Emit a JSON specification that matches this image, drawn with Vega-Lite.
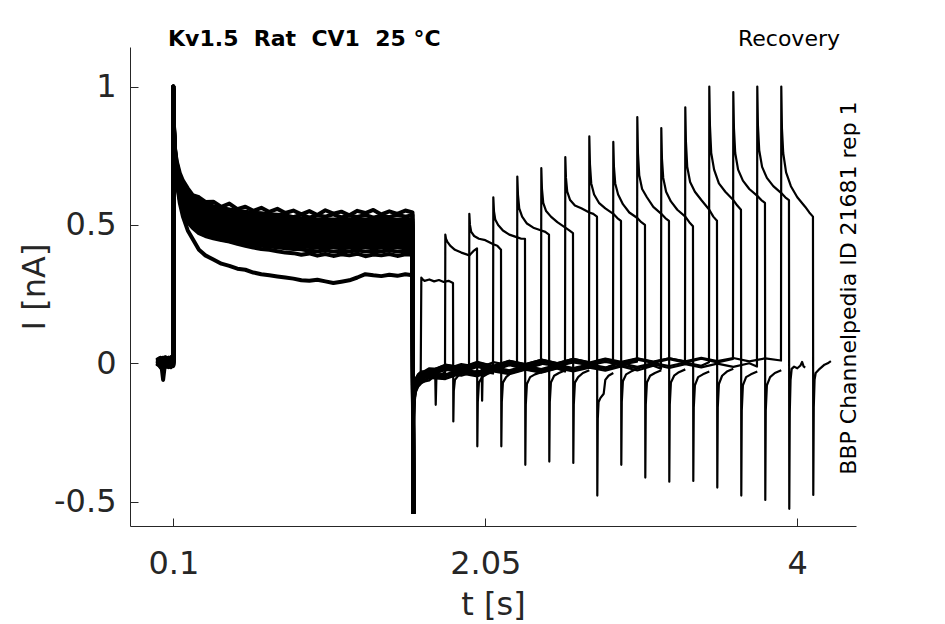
{
  "$schema": "https://vega.github.io/schema/vega-lite/v6.json",
  "width": 726,
  "height": 479,
  "autosize": {"type": "none"},
  "padding": {"left": 130, "top": 47, "right": 89, "bottom": 98},
  "background": "white",
  "config": {"view": {"stroke": null}, "font": "DejaVu Sans"},
  "encoding": {
    "x": {
      "field": "t",
      "type": "quantitative",
      "scale": {"domain": [-0.171, 4.367]},
      "axis": {
        "values": [0.1, 2.05, 4],
        "labelExpr": "'' + datum.value",
        "title": "t [s]",
        "grid": false,
        "tickSize": -8,
        "labelFont": "DejaVu Sans",
        "labelFontSize": 32,
        "labelColor": "#262626",
        "labelBaseline": "alphabetic",
        "labelPadding": 55,
        "labelFlush": false,
        "domainColor": "#262626",
        "tickColor": "#262626",
        "titleFont": "DejaVu Sans",
        "titleFontSize": 32,
        "titleFontWeight": "normal",
        "titleColor": "#262626",
        "titleY": 88,
        "titleBaseline": "alphabetic"
      }
    },
    "y": {
      "field": "i",
      "type": "quantitative",
      "scale": {"domain": [-0.588, 1.143]},
      "axis": {
        "values": [-0.5, 0, 0.5, 1],
        "labelExpr": "'' + datum.value",
        "title": "I [nA]",
        "grid": false,
        "tickSize": -8,
        "labelFont": "DejaVu Sans",
        "labelFontSize": 32,
        "labelColor": "#262626",
        "labelPadding": 22,
        "domainColor": "#262626",
        "tickColor": "#262626",
        "titleFont": "DejaVu Sans",
        "titleFontSize": 32,
        "titleFontWeight": "normal",
        "titleColor": "#262626",
        "titleX": -86,
        "titleAngle": 270,
        "titleBaseline": "alphabetic"
      }
    }
  },
  "layer": [
    {
      "data": {
        "values": [
          {"t": 0, "s1": 0.01, "s2": -0.005, "s3": 0.015, "s4": 0, "s5": 0.02, "s6": -0.01, "s7": 0.005, "s8": 0.012, "s9": -0.008, "s10": 0.018, "s11": 0.003, "s12": -0.012, "s13": 0.008, "s14": 0.022, "s15": -0.003, "s16": 0.006},
          {"t": 0.02, "s1": -0.01, "s2": 0.012, "s3": -0.004, "s4": 0.02, "s5": 0.002, "s6": 0.015, "s7": -0.012, "s8": 0.006, "s9": 0.018, "s10": -0.006, "s11": 0.01, "s12": 0.004, "s13": -0.015, "s14": 0, "s15": 0.014, "s16": -0.008},
          {"t": 0.036, "s1": 0.005, "s2": -0.02, "s3": 0.01, "s4": -0.06, "s5": 0.012, "s6": -0.005, "s7": 0.02, "s8": -0.015, "s9": 0, "s10": 0.008, "s11": -0.025, "s12": 0.015, "s13": 0.004, "s14": -0.01, "s15": 0, "s16": 0.018},
          {"t": 0.05, "s1": 0.018, "s2": 0, "s3": -0.01, "s4": 0.01, "s5": -0.008, "s6": 0.022, "s7": 0.004, "s8": -0.006, "s9": 0.012, "s10": -0.014, "s11": 0.016, "s12": 0, "s13": 0.01, "s14": 0.02, "s15": -0.01, "s16": 0.005},
          {"t": 0.07, "s1": -0.006, "s2": 0.014, "s3": 0.02, "s4": -0.012, "s5": 0.006, "s6": 0, "s7": 0.016, "s8": 0.01, "s9": -0.01, "s10": 0.004, "s11": 0, "s12": 0.02, "s13": -0.004, "s14": 0.008, "s15": 0.012, "s16": -0.014},
          {"t": 0.085, "s1": 0.012, "s2": -0.01, "s3": 0.004, "s4": 0.016, "s5": -0.014, "s6": 0.008, "s7": -0.004, "s8": 0.022, "s9": 0.006, "s10": 0.014, "s11": -0.008, "s12": 0.002, "s13": 0.018, "s14": -0.012, "s15": 0.006, "s16": 0.01},
          {"t": 0.0995, "s1": 0, "s2": 0.008, "s3": -0.006, "s4": 0.004, "s5": 0.01, "s6": -0.004, "s7": 0.012, "s8": 0, "s9": -0.01, "s10": 0.006, "s11": 0.014, "s12": -0.006, "s13": 0.002, "s14": 0.01, "s15": -0.002, "s16": 0.004},
          {"t": 0.1, "s1": 0.99, "s2": 1, "s3": 0.98, "s4": 0.99, "s5": 1, "s6": 0.97, "s7": 0.99, "s8": 1, "s9": 0.98, "s10": 0.99, "s11": 1, "s12": 0.99, "s13": 0.98, "s14": 1, "s15": 0.99, "s16": 1},
          {"t": 0.103, "s1": 0.82, "s2": 0.84, "s3": 0.835, "s4": 0.838, "s5": 0.84, "s6": 0.843, "s7": 0.846, "s8": 0.849, "s9": 0.852, "s10": 0.854, "s11": 0.857, "s12": 0.86, "s13": 0.863, "s14": 0.866, "s15": 0.868, "s16": 0.871},
          {"t": 0.11, "s1": 0.72, "s2": 0.74, "s3": 0.717, "s4": 0.722, "s5": 0.726, "s6": 0.731, "s7": 0.736, "s8": 0.741, "s9": 0.746, "s10": 0.75, "s11": 0.755, "s12": 0.76, "s13": 0.765, "s14": 0.77, "s15": 0.774, "s16": 0.779},
          {"t": 0.12, "s1": 0.66, "s2": 0.68, "s3": 0.658, "s4": 0.664, "s5": 0.669, "s6": 0.675, "s7": 0.681, "s8": 0.687, "s9": 0.693, "s10": 0.698, "s11": 0.704, "s12": 0.71, "s13": 0.716, "s14": 0.722, "s15": 0.727, "s16": 0.733},
          {"t": 0.14, "s1": 0.58, "s2": 0.61, "s3": 0.593, "s4": 0.6, "s5": 0.607, "s6": 0.614, "s7": 0.621, "s8": 0.627, "s9": 0.634, "s10": 0.641, "s11": 0.648, "s12": 0.655, "s13": 0.662, "s14": 0.669, "s15": 0.676, "s16": 0.688},
          {"t": 0.16, "s1": 0.53, "s2": 0.55, "s3": 0.558, "s4": 0.565, "s5": 0.573, "s6": 0.58, "s7": 0.588, "s8": 0.595, "s9": 0.603, "s10": 0.61, "s11": 0.618, "s12": 0.625, "s13": 0.633, "s14": 0.64, "s15": 0.648, "s16": 0.66},
          {"t": 0.19, "s1": 0.48, "s2": 0.51, "s3": 0.522, "s4": 0.53, "s5": 0.538, "s6": 0.546, "s7": 0.555, "s8": 0.563, "s9": 0.571, "s10": 0.579, "s11": 0.587, "s12": 0.595, "s13": 0.603, "s14": 0.611, "s15": 0.619, "s16": 0.632},
          {"t": 0.22, "s1": 0.45, "s2": 0.49, "s3": 0.501, "s4": 0.51, "s5": 0.518, "s6": 0.527, "s7": 0.535, "s8": 0.544, "s9": 0.552, "s10": 0.561, "s11": 0.569, "s12": 0.578, "s13": 0.586, "s14": 0.594, "s15": 0.603, "s16": 0.608},
          {"t": 0.26, "s1": 0.41, "s2": 0.47, "s3": 0.481, "s4": 0.49, "s5": 0.498, "s6": 0.507, "s7": 0.516, "s8": 0.525, "s9": 0.534, "s10": 0.542, "s11": 0.551, "s12": 0.56, "s13": 0.569, "s14": 0.578, "s15": 0.586, "s16": 0.6},
          {"t": 0.3, "s1": 0.39, "s2": 0.46, "s3": 0.469, "s4": 0.478, "s5": 0.487, "s6": 0.496, "s7": 0.505, "s8": 0.514, "s9": 0.523, "s10": 0.532, "s11": 0.541, "s12": 0.55, "s13": 0.559, "s14": 0.568, "s15": 0.577, "s16": 0.583},
          {"t": 0.35, "s1": 0.375, "s2": 0.452, "s3": 0.457, "s4": 0.466, "s5": 0.476, "s6": 0.485, "s7": 0.494, "s8": 0.503, "s9": 0.512, "s10": 0.522, "s11": 0.531, "s12": 0.54, "s13": 0.549, "s14": 0.558, "s15": 0.568, "s16": 0.584},
          {"t": 0.4, "s1": 0.36, "s2": 0.445, "s3": 0.448, "s4": 0.458, "s5": 0.467, "s6": 0.476, "s7": 0.486, "s8": 0.495, "s9": 0.504, "s10": 0.514, "s11": 0.523, "s12": 0.533, "s13": 0.542, "s14": 0.551, "s15": 0.561, "s16": 0.565},
          {"t": 0.45, "s1": 0.352, "s2": 0.44, "s3": 0.442, "s4": 0.452, "s5": 0.461, "s6": 0.471, "s7": 0.48, "s8": 0.49, "s9": 0.499, "s10": 0.509, "s11": 0.518, "s12": 0.528, "s13": 0.537, "s14": 0.546, "s15": 0.556, "s16": 0.577},
          {"t": 0.5, "s1": 0.342, "s2": 0.432, "s3": 0.437, "s4": 0.446, "s5": 0.456, "s6": 0.465, "s7": 0.475, "s8": 0.484, "s9": 0.494, "s10": 0.503, "s11": 0.513, "s12": 0.523, "s13": 0.532, "s14": 0.542, "s15": 0.551, "s16": 0.557},
          {"t": 0.55, "s1": 0.338, "s2": 0.425, "s3": 0.432, "s4": 0.442, "s5": 0.452, "s6": 0.461, "s7": 0.471, "s8": 0.481, "s9": 0.49, "s10": 0.5, "s11": 0.509, "s12": 0.519, "s13": 0.529, "s14": 0.538, "s15": 0.548, "s16": 0.566},
          {"t": 0.6, "s1": 0.328, "s2": 0.418, "s3": 0.428, "s4": 0.437, "s5": 0.447, "s6": 0.457, "s7": 0.467, "s8": 0.476, "s9": 0.486, "s10": 0.496, "s11": 0.505, "s12": 0.515, "s13": 0.525, "s14": 0.534, "s15": 0.544, "s16": 0.551},
          {"t": 0.65, "s1": 0.322, "s2": 0.413, "s3": 0.425, "s4": 0.435, "s5": 0.444, "s6": 0.454, "s7": 0.464, "s8": 0.474, "s9": 0.483, "s10": 0.493, "s11": 0.503, "s12": 0.513, "s13": 0.522, "s14": 0.532, "s15": 0.542, "s16": 0.562},
          {"t": 0.7, "s1": 0.318, "s2": 0.41, "s3": 0.422, "s4": 0.432, "s5": 0.441, "s6": 0.451, "s7": 0.461, "s8": 0.471, "s9": 0.481, "s10": 0.49, "s11": 0.5, "s12": 0.51, "s13": 0.52, "s14": 0.53, "s15": 0.539, "s16": 0.547},
          {"t": 0.75, "s1": 0.314, "s2": 0.405, "s3": 0.419, "s4": 0.429, "s5": 0.439, "s6": 0.448, "s7": 0.458, "s8": 0.468, "s9": 0.478, "s10": 0.488, "s11": 0.498, "s12": 0.508, "s13": 0.517, "s14": 0.527, "s15": 0.537, "s16": 0.558},
          {"t": 0.8, "s1": 0.31, "s2": 0.4, "s3": 0.416, "s4": 0.426, "s5": 0.436, "s6": 0.446, "s7": 0.456, "s8": 0.465, "s9": 0.475, "s10": 0.485, "s11": 0.495, "s12": 0.505, "s13": 0.515, "s14": 0.525, "s15": 0.535, "s16": 0.543},
          {"t": 0.85, "s1": 0.306, "s2": 0.398, "s3": 0.413, "s4": 0.423, "s5": 0.433, "s6": 0.443, "s7": 0.453, "s8": 0.463, "s9": 0.473, "s10": 0.483, "s11": 0.493, "s12": 0.503, "s13": 0.513, "s14": 0.523, "s15": 0.528, "s16": 0.552},
          {"t": 0.9, "s1": 0.3, "s2": 0.392, "s3": 0.412, "s4": 0.422, "s5": 0.432, "s6": 0.442, "s7": 0.452, "s8": 0.462, "s9": 0.472, "s10": 0.482, "s11": 0.492, "s12": 0.502, "s13": 0.512, "s14": 0.522, "s15": 0.537, "s16": 0.538},
          {"t": 0.95, "s1": 0.298, "s2": 0.397, "s3": 0.407, "s4": 0.42, "s5": 0.43, "s6": 0.44, "s7": 0.45, "s8": 0.46, "s9": 0.47, "s10": 0.48, "s11": 0.49, "s12": 0.5, "s13": 0.51, "s14": 0.52, "s15": 0.526, "s16": 0.55},
          {"t": 1.0, "s1": 0.302, "s2": 0.389, "s3": 0.405, "s4": 0.42, "s5": 0.43, "s6": 0.44, "s7": 0.45, "s8": 0.46, "s9": 0.473, "s10": 0.48, "s11": 0.49, "s12": 0.5, "s13": 0.51, "s14": 0.52, "s15": 0.535, "s16": 0.536},
          {"t": 1.05, "s1": 0.296, "s2": 0.395, "s3": 0.408, "s4": 0.42, "s5": 0.43, "s6": 0.44, "s7": 0.45, "s8": 0.46, "s9": 0.468, "s10": 0.48, "s11": 0.49, "s12": 0.5, "s13": 0.51, "s14": 0.52, "s15": 0.53, "s16": 0.553},
          {"t": 1.1, "s1": 0.29, "s2": 0.388, "s3": 0.404, "s4": 0.42, "s5": 0.43, "s6": 0.44, "s7": 0.45, "s8": 0.46, "s9": 0.472, "s10": 0.48, "s11": 0.49, "s12": 0.5, "s13": 0.51, "s14": 0.52, "s15": 0.538, "s16": 0.541},
          {"t": 1.15, "s1": 0.295, "s2": 0.394, "s3": 0.407, "s4": 0.42, "s5": 0.43, "s6": 0.44, "s7": 0.45, "s8": 0.46, "s9": 0.469, "s10": 0.48, "s11": 0.49, "s12": 0.5, "s13": 0.51, "s14": 0.52, "s15": 0.527, "s16": 0.548},
          {"t": 1.2, "s1": 0.3, "s2": 0.39, "s3": 0.405, "s4": 0.42, "s5": 0.43, "s6": 0.44, "s7": 0.45, "s8": 0.46, "s9": 0.473, "s10": 0.48, "s11": 0.49, "s12": 0.5, "s13": 0.51, "s14": 0.52, "s15": 0.534, "s16": 0.535},
          {"t": 1.25, "s1": 0.31, "s2": 0.396, "s3": 0.408, "s4": 0.42, "s5": 0.43, "s6": 0.44, "s7": 0.45, "s8": 0.46, "s9": 0.468, "s10": 0.48, "s11": 0.49, "s12": 0.5, "s13": 0.51, "s14": 0.52, "s15": 0.529, "s16": 0.551},
          {"t": 1.3, "s1": 0.322, "s2": 0.387, "s3": 0.404, "s4": 0.42, "s5": 0.43, "s6": 0.44, "s7": 0.45, "s8": 0.46, "s9": 0.472, "s10": 0.48, "s11": 0.49, "s12": 0.5, "s13": 0.51, "s14": 0.52, "s15": 0.536, "s16": 0.543},
          {"t": 1.35, "s1": 0.318, "s2": 0.393, "s3": 0.407, "s4": 0.42, "s5": 0.43, "s6": 0.44, "s7": 0.45, "s8": 0.46, "s9": 0.469, "s10": 0.48, "s11": 0.49, "s12": 0.5, "s13": 0.51, "s14": 0.52, "s15": 0.526, "s16": 0.554},
          {"t": 1.4, "s1": 0.315, "s2": 0.39, "s3": 0.405, "s4": 0.42, "s5": 0.43, "s6": 0.44, "s7": 0.45, "s8": 0.46, "s9": 0.473, "s10": 0.48, "s11": 0.49, "s12": 0.5, "s13": 0.51, "s14": 0.52, "s15": 0.533, "s16": 0.538},
          {"t": 1.45, "s1": 0.32, "s2": 0.395, "s3": 0.408, "s4": 0.42, "s5": 0.43, "s6": 0.44, "s7": 0.45, "s8": 0.46, "s9": 0.468, "s10": 0.48, "s11": 0.49, "s12": 0.5, "s13": 0.51, "s14": 0.52, "s15": 0.528, "s16": 0.549},
          {"t": 1.5, "s1": 0.316, "s2": 0.388, "s3": 0.404, "s4": 0.42, "s5": 0.43, "s6": 0.44, "s7": 0.45, "s8": 0.46, "s9": 0.472, "s10": 0.48, "s11": 0.49, "s12": 0.5, "s13": 0.51, "s14": 0.52, "s15": 0.537, "s16": 0.54},
          {"t": 1.55, "s1": 0.322, "s2": 0.394, "s3": 0.407, "s4": 0.42, "s5": 0.43, "s6": 0.44, "s7": 0.45, "s8": 0.46, "s9": 0.469, "s10": 0.48, "s11": 0.49, "s12": 0.5, "s13": 0.51, "s14": 0.52, "s15": 0.53, "s16": 0.552},
          {"t": 1.595, "s1": 0.318, "s2": 0.392, "s3": 0.405, "s4": 0.42, "s5": 0.43, "s6": 0.44, "s7": 0.45, "s8": 0.46, "s9": 0.47, "s10": 0.48, "s11": 0.49, "s12": 0.5, "s13": 0.51, "s14": 0.52, "s15": 0.535, "s16": 0.545},
          {"t": 1.6, "s1": -0.545, "s2": -0.54, "s3": -0.545, "s4": -0.54, "s5": -0.545, "s6": -0.54, "s7": -0.545, "s8": -0.54, "s9": -0.545, "s10": -0.54, "s11": -0.545, "s12": -0.54, "s13": -0.545, "s14": -0.54, "s15": -0.545, "s16": -0.54}
        ]
      },
      "transform": [
        {"fold": ["s1", "s2", "s3", "s4", "s5", "s6", "s7", "s8", "s9", "s10", "s11", "s12", "s13", "s14", "s15", "s16"], "as": ["s", "i"]}
      ],
      "mark": {"type": "line", "color": "black", "strokeWidth": 4, "strokeJoin": "round"},
      "encoding": {"detail": {"field": "s", "type": "nominal"}}
    },
    {
      "data": {
        "values": [
          {"s": 1, "t": 1.6, "i": -0.545}, {"s": 1, "t": 1.602, "i": -0.24}, {"s": 1, "t": 1.606, "i": -0.12}, {"s": 1, "t": 1.615, "i": -0.08}, {"s": 1, "t": 1.63, "i": -0.06}, {"s": 1, "t": 1.646, "i": -0.05},
          {"s": 1, "t": 1.65, "i": 0.31}, {"s": 1, "t": 1.655, "i": 0.305}, {"s": 1, "t": 1.67, "i": 0.298}, {"s": 1, "t": 1.7, "i": 0.303}, {"s": 1, "t": 1.73, "i": 0.296}, {"s": 1, "t": 1.76, "i": 0.301}, {"s": 1, "t": 1.79, "i": 0.294}, {"s": 1, "t": 1.82, "i": 0.298}, {"s": 1, "t": 1.848, "i": 0.29},
          {"s": 1, "t": 1.85, "i": -0.21}, {"s": 1, "t": 1.853, "i": -0.1}, {"s": 1, "t": 1.86, "i": -0.06}, {"s": 1, "t": 1.88, "i": -0.045}, {"s": 1, "t": 1.91, "i": -0.035}, {"s": 1, "t": 1.95, "i": -0.03},

          {"s": 2, "t": 1.6, "i": -0.54}, {"s": 2, "t": 1.602, "i": -0.23}, {"s": 2, "t": 1.606, "i": -0.12}, {"s": 2, "t": 1.615, "i": -0.09}, {"s": 2, "t": 1.63, "i": -0.07}, {"s": 2, "t": 1.65, "i": -0.055}, {"s": 2, "t": 1.7, "i": -0.038}, {"s": 2, "t": 1.75, "i": -0.045}, {"s": 2, "t": 1.798, "i": -0.033},
          {"s": 2, "t": 1.8, "i": 0.465}, {"s": 2, "t": 1.804, "i": 0.45}, {"s": 2, "t": 1.812, "i": 0.44}, {"s": 2, "t": 1.83, "i": 0.425}, {"s": 2, "t": 1.86, "i": 0.41}, {"s": 2, "t": 1.9, "i": 0.4}, {"s": 2, "t": 1.95, "i": 0.39}, {"s": 2, "t": 1.975, "i": 0.405}, {"s": 2, "t": 1.998, "i": 0.415},
          {"s": 2, "t": 2.0, "i": -0.3}, {"s": 2, "t": 2.003, "i": -0.14}, {"s": 2, "t": 2.01, "i": -0.07}, {"s": 2, "t": 2.03, "i": -0.05}, {"s": 2, "t": 2.06, "i": -0.04}, {"s": 2, "t": 2.1, "i": -0.03},

          {"s": 3, "t": 1.6, "i": -0.545}, {"s": 3, "t": 1.602, "i": -0.2}, {"s": 3, "t": 1.606, "i": -0.1}, {"s": 3, "t": 1.615, "i": -0.07}, {"s": 3, "t": 1.63, "i": -0.05}, {"s": 3, "t": 1.65, "i": -0.04}, {"s": 3, "t": 1.7, "i": -0.024}, {"s": 3, "t": 1.8, "i": -0.027}, {"s": 3, "t": 1.9, "i": -0.006}, {"s": 3, "t": 1.948, "i": -0.02},
          {"s": 3, "t": 1.95, "i": 0.54}, {"s": 3, "t": 1.954, "i": 0.5}, {"s": 3, "t": 1.962, "i": 0.475}, {"s": 3, "t": 1.98, "i": 0.46}, {"s": 3, "t": 2.01, "i": 0.45}, {"s": 3, "t": 2.05, "i": 0.445}, {"s": 3, "t": 2.1, "i": 0.43}, {"s": 3, "t": 2.125, "i": 0.425}, {"s": 3, "t": 2.148, "i": 0.41},
          {"s": 3, "t": 2.15, "i": -0.3}, {"s": 3, "t": 2.153, "i": -0.14}, {"s": 3, "t": 2.16, "i": -0.07}, {"s": 3, "t": 2.18, "i": -0.05}, {"s": 3, "t": 2.21, "i": -0.035}, {"s": 3, "t": 2.25, "i": -0.028},

          {"s": 4, "t": 1.6, "i": -0.54}, {"s": 4, "t": 1.602, "i": -0.26}, {"s": 4, "t": 1.606, "i": -0.14}, {"s": 4, "t": 1.615, "i": -0.1}, {"s": 4, "t": 1.63, "i": -0.08}, {"s": 4, "t": 1.65, "i": -0.068}, {"s": 4, "t": 1.7, "i": -0.062}, {"s": 4, "t": 1.737, "i": -0.044}, {"s": 4, "t": 1.74, "i": -0.15}, {"s": 4, "t": 1.744, "i": -0.055}, {"s": 4, "t": 1.8, "i": -0.038}, {"s": 4, "t": 1.9, "i": -0.045}, {"s": 4, "t": 2.0, "i": -0.027}, {"s": 4, "t": 2.098, "i": -0.037},
          {"s": 4, "t": 2.1, "i": 0.6}, {"s": 4, "t": 2.104, "i": 0.55}, {"s": 4, "t": 2.112, "i": 0.52}, {"s": 4, "t": 2.13, "i": 0.5}, {"s": 4, "t": 2.16, "i": 0.48}, {"s": 4, "t": 2.2, "i": 0.465}, {"s": 4, "t": 2.25, "i": 0.455}, {"s": 4, "t": 2.275, "i": 0.45}, {"s": 4, "t": 2.298, "i": 0.45},
          {"s": 4, "t": 2.3, "i": -0.367}, {"s": 4, "t": 2.303, "i": -0.15}, {"s": 4, "t": 2.31, "i": -0.075}, {"s": 4, "t": 2.33, "i": -0.05}, {"s": 4, "t": 2.36, "i": -0.04}, {"s": 4, "t": 2.4, "i": -0.032},

          {"s": 5, "t": 1.6, "i": -0.545}, {"s": 5, "t": 1.602, "i": -0.2}, {"s": 5, "t": 1.606, "i": -0.09}, {"s": 5, "t": 1.615, "i": -0.06}, {"s": 5, "t": 1.63, "i": -0.045}, {"s": 5, "t": 1.65, "i": -0.035}, {"s": 5, "t": 1.7, "i": -0.018}, {"s": 5, "t": 1.8, "i": -0.022}, {"s": 5, "t": 1.9, "i": -0.003}, {"s": 5, "t": 2.0, "i": -0.013}, {"s": 5, "t": 2.027, "i": -0.006}, {"s": 5, "t": 2.03, "i": -0.135}, {"s": 5, "t": 2.034, "i": -0.012}, {"s": 5, "t": 2.1, "i": 0.004}, {"s": 5, "t": 2.2, "i": -0.007}, {"s": 5, "t": 2.248, "i": 0.004},
          {"s": 5, "t": 2.25, "i": 0.675}, {"s": 5, "t": 2.254, "i": 0.61}, {"s": 5, "t": 2.262, "i": 0.56}, {"s": 5, "t": 2.28, "i": 0.53}, {"s": 5, "t": 2.31, "i": 0.505}, {"s": 5, "t": 2.35, "i": 0.49}, {"s": 5, "t": 2.4, "i": 0.48}, {"s": 5, "t": 2.425, "i": 0.475}, {"s": 5, "t": 2.448, "i": 0.465},
          {"s": 5, "t": 2.45, "i": -0.355}, {"s": 5, "t": 2.453, "i": -0.14}, {"s": 5, "t": 2.46, "i": -0.07}, {"s": 5, "t": 2.48, "i": -0.045}, {"s": 5, "t": 2.51, "i": -0.035}, {"s": 5, "t": 2.55, "i": -0.025},

          {"s": 6, "t": 1.6, "i": -0.54}, {"s": 6, "t": 1.602, "i": -0.22}, {"s": 6, "t": 1.606, "i": -0.11}, {"s": 6, "t": 1.615, "i": -0.075}, {"s": 6, "t": 1.63, "i": -0.058}, {"s": 6, "t": 1.65, "i": -0.048}, {"s": 6, "t": 1.7, "i": -0.047}, {"s": 6, "t": 1.8, "i": -0.023}, {"s": 6, "t": 1.9, "i": -0.033}, {"s": 6, "t": 2.0, "i": -0.013}, {"s": 6, "t": 2.1, "i": -0.027}, {"s": 6, "t": 2.2, "i": -0.007}, {"s": 6, "t": 2.3, "i": -0.02}, {"s": 6, "t": 2.398, "i": -0.004},
          {"s": 6, "t": 2.4, "i": 0.705}, {"s": 6, "t": 2.404, "i": 0.63}, {"s": 6, "t": 2.412, "i": 0.58}, {"s": 6, "t": 2.43, "i": 0.55}, {"s": 6, "t": 2.46, "i": 0.53}, {"s": 6, "t": 2.5, "i": 0.51}, {"s": 6, "t": 2.55, "i": 0.49}, {"s": 6, "t": 2.575, "i": 0.48}, {"s": 6, "t": 2.598, "i": 0.47},
          {"s": 6, "t": 2.6, "i": -0.36}, {"s": 6, "t": 2.603, "i": -0.15}, {"s": 6, "t": 2.61, "i": -0.07}, {"s": 6, "t": 2.63, "i": -0.05}, {"s": 6, "t": 2.66, "i": -0.035}, {"s": 6, "t": 2.7, "i": -0.025},

          {"s": 7, "t": 1.6, "i": -0.545}, {"s": 7, "t": 1.602, "i": -0.27}, {"s": 7, "t": 1.606, "i": -0.15}, {"s": 7, "t": 1.615, "i": -0.105}, {"s": 7, "t": 1.63, "i": -0.085}, {"s": 7, "t": 1.65, "i": -0.072}, {"s": 7, "t": 1.7, "i": -0.053}, {"s": 7, "t": 1.8, "i": -0.057}, {"s": 7, "t": 1.9, "i": -0.037}, {"s": 7, "t": 2.0, "i": -0.047}, {"s": 7, "t": 2.1, "i": -0.029}, {"s": 7, "t": 2.2, "i": -0.039}, {"s": 7, "t": 2.3, "i": -0.023}, {"s": 7, "t": 2.4, "i": -0.034}, {"s": 7, "t": 2.5, "i": -0.019}, {"s": 7, "t": 2.548, "i": -0.03},
          {"s": 7, "t": 2.55, "i": 0.745}, {"s": 7, "t": 2.554, "i": 0.67}, {"s": 7, "t": 2.562, "i": 0.62}, {"s": 7, "t": 2.58, "i": 0.59}, {"s": 7, "t": 2.61, "i": 0.57}, {"s": 7, "t": 2.65, "i": 0.56}, {"s": 7, "t": 2.7, "i": 0.545}, {"s": 7, "t": 2.725, "i": 0.54}, {"s": 7, "t": 2.748, "i": 0.53},
          {"s": 7, "t": 2.75, "i": -0.478}, {"s": 7, "t": 2.753, "i": -0.2}, {"s": 7, "t": 2.758, "i": -0.14}, {"s": 7, "t": 2.77, "i": -0.125}, {"s": 7, "t": 2.79, "i": -0.11}, {"s": 7, "t": 2.8, "i": -0.06}, {"s": 7, "t": 2.82, "i": -0.045}, {"s": 7, "t": 2.85, "i": -0.035},

          {"s": 8, "t": 1.6, "i": -0.54}, {"s": 8, "t": 1.602, "i": -0.19}, {"s": 8, "t": 1.606, "i": -0.085}, {"s": 8, "t": 1.615, "i": -0.055}, {"s": 8, "t": 1.63, "i": -0.04}, {"s": 8, "t": 1.65, "i": -0.03}, {"s": 8, "t": 1.7, "i": -0.029}, {"s": 8, "t": 1.8, "i": -0.005}, {"s": 8, "t": 1.9, "i": -0.015}, {"s": 8, "t": 2.0, "i": 0.005}, {"s": 8, "t": 2.1, "i": -0.01}, {"s": 8, "t": 2.2, "i": 0.009}, {"s": 8, "t": 2.3, "i": -0.003}, {"s": 8, "t": 2.4, "i": 0.013}, {"s": 8, "t": 2.5, "i": 0.001}, {"s": 8, "t": 2.6, "i": 0.016}, {"s": 8, "t": 2.698, "i": 0.004},
          {"s": 8, "t": 2.7, "i": 0.82}, {"s": 8, "t": 2.704, "i": 0.72}, {"s": 8, "t": 2.712, "i": 0.65}, {"s": 8, "t": 2.73, "i": 0.61}, {"s": 8, "t": 2.76, "i": 0.58}, {"s": 8, "t": 2.8, "i": 0.56}, {"s": 8, "t": 2.85, "i": 0.54}, {"s": 8, "t": 2.875, "i": 0.525}, {"s": 8, "t": 2.898, "i": 0.515},
          {"s": 8, "t": 2.9, "i": -0.367}, {"s": 8, "t": 2.903, "i": -0.14}, {"s": 8, "t": 2.91, "i": -0.065}, {"s": 8, "t": 2.93, "i": -0.04}, {"s": 8, "t": 2.96, "i": -0.03}, {"s": 8, "t": 3.0, "i": -0.02},

          {"s": 9, "t": 1.6, "i": -0.545}, {"s": 9, "t": 1.602, "i": -0.24}, {"s": 9, "t": 1.606, "i": -0.12}, {"s": 9, "t": 1.615, "i": -0.09}, {"s": 9, "t": 1.63, "i": -0.07}, {"s": 9, "t": 1.65, "i": -0.06}, {"s": 9, "t": 1.7, "i": -0.041}, {"s": 9, "t": 1.8, "i": -0.045}, {"s": 9, "t": 1.9, "i": -0.023}, {"s": 9, "t": 2.0, "i": -0.037}, {"s": 9, "t": 2.1, "i": -0.018}, {"s": 9, "t": 2.2, "i": -0.027}, {"s": 9, "t": 2.3, "i": -0.015}, {"s": 9, "t": 2.4, "i": -0.024}, {"s": 9, "t": 2.5, "i": -0.009}, {"s": 9, "t": 2.6, "i": -0.019}, {"s": 9, "t": 2.7, "i": -0.007}, {"s": 9, "t": 2.8, "i": -0.017}, {"s": 9, "t": 2.848, "i": -0.005},
          {"s": 9, "t": 2.85, "i": 0.8}, {"s": 9, "t": 2.854, "i": 0.71}, {"s": 9, "t": 2.862, "i": 0.65}, {"s": 9, "t": 2.88, "i": 0.61}, {"s": 9, "t": 2.91, "i": 0.575}, {"s": 9, "t": 2.95, "i": 0.545}, {"s": 9, "t": 3.0, "i": 0.525}, {"s": 9, "t": 3.025, "i": 0.51}, {"s": 9, "t": 3.048, "i": 0.5},
          {"s": 9, "t": 3.05, "i": -0.413}, {"s": 9, "t": 3.053, "i": -0.15}, {"s": 9, "t": 3.06, "i": -0.07}, {"s": 9, "t": 3.08, "i": -0.045}, {"s": 9, "t": 3.11, "i": -0.035}, {"s": 9, "t": 3.15, "i": -0.025},

          {"s": 10, "t": 1.6, "i": -0.54}, {"s": 10, "t": 1.602, "i": -0.21}, {"s": 10, "t": 1.606, "i": -0.1}, {"s": 10, "t": 1.615, "i": -0.07}, {"s": 10, "t": 1.63, "i": -0.055}, {"s": 10, "t": 1.65, "i": -0.045}, {"s": 10, "t": 1.7, "i": -0.042}, {"s": 10, "t": 1.8, "i": -0.019}, {"s": 10, "t": 1.9, "i": -0.025}, {"s": 10, "t": 2.0, "i": -0.011}, {"s": 10, "t": 2.1, "i": -0.019}, {"s": 10, "t": 2.2, "i": -0.003}, {"s": 10, "t": 2.3, "i": -0.013}, {"s": 10, "t": 2.4, "i": -0.001}, {"s": 10, "t": 2.5, "i": -0.01}, {"s": 10, "t": 2.6, "i": 0.003}, {"s": 10, "t": 2.7, "i": -0.007}, {"s": 10, "t": 2.8, "i": 0.005}, {"s": 10, "t": 2.9, "i": -0.005}, {"s": 10, "t": 2.998, "i": 0.006},
          {"s": 10, "t": 3.0, "i": 0.89}, {"s": 10, "t": 3.004, "i": 0.76}, {"s": 10, "t": 3.012, "i": 0.68}, {"s": 10, "t": 3.03, "i": 0.63}, {"s": 10, "t": 3.06, "i": 0.6}, {"s": 10, "t": 3.1, "i": 0.565}, {"s": 10, "t": 3.15, "i": 0.54}, {"s": 10, "t": 3.175, "i": 0.525}, {"s": 10, "t": 3.198, "i": 0.515},
          {"s": 10, "t": 3.2, "i": -0.428}, {"s": 10, "t": 3.203, "i": -0.15}, {"s": 10, "t": 3.21, "i": -0.07}, {"s": 10, "t": 3.23, "i": -0.045}, {"s": 10, "t": 3.26, "i": -0.032}, {"s": 10, "t": 3.3, "i": -0.022},

          {"s": 11, "t": 1.6, "i": -0.545}, {"s": 11, "t": 1.602, "i": -0.26}, {"s": 11, "t": 1.606, "i": -0.14}, {"s": 11, "t": 1.615, "i": -0.1}, {"s": 11, "t": 1.63, "i": -0.08}, {"s": 11, "t": 1.65, "i": -0.068}, {"s": 11, "t": 1.7, "i": -0.049}, {"s": 11, "t": 1.8, "i": -0.053}, {"s": 11, "t": 1.9, "i": -0.033}, {"s": 11, "t": 2.0, "i": -0.042}, {"s": 11, "t": 2.1, "i": -0.027}, {"s": 11, "t": 2.2, "i": -0.037}, {"s": 11, "t": 2.3, "i": -0.021}, {"s": 11, "t": 2.4, "i": -0.032}, {"s": 11, "t": 2.5, "i": -0.018}, {"s": 11, "t": 2.6, "i": -0.029}, {"s": 11, "t": 2.7, "i": -0.016}, {"s": 11, "t": 2.8, "i": -0.027}, {"s": 11, "t": 2.9, "i": -0.011}, {"s": 11, "t": 3.0, "i": -0.026}, {"s": 11, "t": 3.1, "i": -0.009}, {"s": 11, "t": 3.148, "i": -0.02},
          {"s": 11, "t": 3.15, "i": 0.85}, {"s": 11, "t": 3.154, "i": 0.74}, {"s": 11, "t": 3.162, "i": 0.67}, {"s": 11, "t": 3.18, "i": 0.62}, {"s": 11, "t": 3.21, "i": 0.585}, {"s": 11, "t": 3.25, "i": 0.555}, {"s": 11, "t": 3.3, "i": 0.53}, {"s": 11, "t": 3.325, "i": 0.51}, {"s": 11, "t": 3.348, "i": 0.495},
          {"s": 11, "t": 3.35, "i": -0.425}, {"s": 11, "t": 3.353, "i": -0.16}, {"s": 11, "t": 3.36, "i": -0.08}, {"s": 11, "t": 3.38, "i": -0.05}, {"s": 11, "t": 3.41, "i": -0.04}, {"s": 11, "t": 3.45, "i": -0.03},

          {"s": 12, "t": 1.6, "i": -0.54}, {"s": 12, "t": 1.602, "i": -0.2}, {"s": 12, "t": 1.606, "i": -0.09}, {"s": 12, "t": 1.615, "i": -0.06}, {"s": 12, "t": 1.63, "i": -0.045}, {"s": 12, "t": 1.65, "i": -0.036}, {"s": 12, "t": 1.7, "i": -0.034}, {"s": 12, "t": 1.8, "i": -0.009}, {"s": 12, "t": 1.9, "i": -0.02}, {"s": 12, "t": 2.0, "i": 0}, {"s": 12, "t": 2.1, "i": -0.013}, {"s": 12, "t": 2.2, "i": 0.006}, {"s": 12, "t": 2.3, "i": -0.007}, {"s": 12, "t": 2.4, "i": 0.01}, {"s": 12, "t": 2.5, "i": -0.003}, {"s": 12, "t": 2.6, "i": 0.011}, {"s": 12, "t": 2.7, "i": 0}, {"s": 12, "t": 2.8, "i": 0.015}, {"s": 12, "t": 2.9, "i": 0.002}, {"s": 12, "t": 3.0, "i": 0.017}, {"s": 12, "t": 3.1, "i": 0.004}, {"s": 12, "t": 3.2, "i": 0.018}, {"s": 12, "t": 3.298, "i": 0.006},
          {"s": 12, "t": 3.3, "i": 0.925}, {"s": 12, "t": 3.304, "i": 0.8}, {"s": 12, "t": 3.312, "i": 0.71}, {"s": 12, "t": 3.33, "i": 0.655}, {"s": 12, "t": 3.36, "i": 0.62}, {"s": 12, "t": 3.4, "i": 0.59}, {"s": 12, "t": 3.45, "i": 0.555}, {"s": 12, "t": 3.475, "i": 0.53}, {"s": 12, "t": 3.498, "i": 0.515},
          {"s": 12, "t": 3.5, "i": -0.449}, {"s": 12, "t": 3.503, "i": -0.16}, {"s": 12, "t": 3.51, "i": -0.075}, {"s": 12, "t": 3.53, "i": -0.045}, {"s": 12, "t": 3.56, "i": -0.03}, {"s": 12, "t": 3.6, "i": -0.02},

          {"s": 13, "t": 1.6, "i": -0.545}, {"s": 13, "t": 1.602, "i": -0.23}, {"s": 13, "t": 1.606, "i": -0.115}, {"s": 13, "t": 1.615, "i": -0.085}, {"s": 13, "t": 1.63, "i": -0.065}, {"s": 13, "t": 1.65, "i": -0.054}, {"s": 13, "t": 1.7, "i": -0.036}, {"s": 13, "t": 1.8, "i": -0.041}, {"s": 13, "t": 1.9, "i": -0.019}, {"s": 13, "t": 2.0, "i": -0.032}, {"s": 13, "t": 2.1, "i": -0.013}, {"s": 13, "t": 2.2, "i": -0.025}, {"s": 13, "t": 2.3, "i": -0.008}, {"s": 13, "t": 2.4, "i": -0.021}, {"s": 13, "t": 2.5, "i": -0.005}, {"s": 13, "t": 2.6, "i": -0.017}, {"s": 13, "t": 2.7, "i": -0.004}, {"s": 13, "t": 2.8, "i": -0.015}, {"s": 13, "t": 2.9, "i": 0}, {"s": 13, "t": 3.0, "i": -0.013}, {"s": 13, "t": 3.1, "i": 0.001}, {"s": 13, "t": 3.2, "i": -0.01}, {"s": 13, "t": 3.3, "i": 0.003}, {"s": 13, "t": 3.4, "i": -0.009}, {"s": 13, "t": 3.448, "i": 0.004},
          {"s": 13, "t": 3.45, "i": 1.0}, {"s": 13, "t": 3.454, "i": 0.86}, {"s": 13, "t": 3.462, "i": 0.76}, {"s": 13, "t": 3.48, "i": 0.7}, {"s": 13, "t": 3.51, "i": 0.65}, {"s": 13, "t": 3.55, "i": 0.62}, {"s": 13, "t": 3.6, "i": 0.59}, {"s": 13, "t": 3.625, "i": 0.57}, {"s": 13, "t": 3.648, "i": 0.555},
          {"s": 13, "t": 3.65, "i": -0.478}, {"s": 13, "t": 3.653, "i": -0.17}, {"s": 13, "t": 3.66, "i": -0.08}, {"s": 13, "t": 3.68, "i": -0.05}, {"s": 13, "t": 3.71, "i": -0.04}, {"s": 13, "t": 3.75, "i": -0.03},

          {"s": 14, "t": 1.6, "i": -0.54}, {"s": 14, "t": 1.602, "i": -0.21}, {"s": 14, "t": 1.606, "i": -0.1}, {"s": 14, "t": 1.615, "i": -0.065}, {"s": 14, "t": 1.63, "i": -0.05}, {"s": 14, "t": 1.65, "i": -0.04}, {"s": 14, "t": 1.7, "i": -0.038}, {"s": 14, "t": 1.8, "i": -0.014}, {"s": 14, "t": 1.9, "i": -0.023}, {"s": 14, "t": 2.0, "i": -0.004}, {"s": 14, "t": 2.1, "i": -0.017}, {"s": 14, "t": 2.2, "i": 0.002}, {"s": 14, "t": 2.3, "i": -0.011}, {"s": 14, "t": 2.4, "i": 0.006}, {"s": 14, "t": 2.5, "i": -0.007}, {"s": 14, "t": 2.6, "i": 0.009}, {"s": 14, "t": 2.7, "i": -0.005}, {"s": 14, "t": 2.8, "i": 0.012}, {"s": 14, "t": 2.9, "i": -0.002}, {"s": 14, "t": 3.0, "i": 0.013}, {"s": 14, "t": 3.1, "i": 0.001}, {"s": 14, "t": 3.2, "i": 0.015}, {"s": 14, "t": 3.3, "i": 0.002}, {"s": 14, "t": 3.4, "i": 0.017}, {"s": 14, "t": 3.5, "i": 0.003}, {"s": 14, "t": 3.598, "i": 0.016},
          {"s": 14, "t": 3.6, "i": 0.98}, {"s": 14, "t": 3.604, "i": 0.85}, {"s": 14, "t": 3.612, "i": 0.76}, {"s": 14, "t": 3.63, "i": 0.7}, {"s": 14, "t": 3.66, "i": 0.66}, {"s": 14, "t": 3.7, "i": 0.63}, {"s": 14, "t": 3.75, "i": 0.605}, {"s": 14, "t": 3.775, "i": 0.59}, {"s": 14, "t": 3.798, "i": 0.58},
          {"s": 14, "t": 3.8, "i": -0.494}, {"s": 14, "t": 3.803, "i": -0.17}, {"s": 14, "t": 3.81, "i": -0.08}, {"s": 14, "t": 3.83, "i": -0.05}, {"s": 14, "t": 3.86, "i": -0.035}, {"s": 14, "t": 3.9, "i": -0.025},

          {"s": 15, "t": 1.6, "i": -0.545}, {"s": 15, "t": 1.602, "i": -0.25}, {"s": 15, "t": 1.606, "i": -0.13}, {"s": 15, "t": 1.615, "i": -0.095}, {"s": 15, "t": 1.63, "i": -0.075}, {"s": 15, "t": 1.65, "i": -0.062}, {"s": 15, "t": 1.7, "i": -0.043}, {"s": 15, "t": 1.8, "i": -0.047}, {"s": 15, "t": 1.9, "i": -0.029}, {"s": 15, "t": 2.0, "i": -0.037}, {"s": 15, "t": 2.1, "i": -0.022}, {"s": 15, "t": 2.2, "i": -0.031}, {"s": 15, "t": 2.3, "i": -0.016}, {"s": 15, "t": 2.4, "i": -0.027}, {"s": 15, "t": 2.5, "i": -0.013}, {"s": 15, "t": 2.6, "i": -0.024}, {"s": 15, "t": 2.7, "i": -0.011}, {"s": 15, "t": 2.8, "i": -0.021}, {"s": 15, "t": 2.9, "i": -0.006}, {"s": 15, "t": 3.0, "i": -0.019}, {"s": 15, "t": 3.1, "i": -0.004}, {"s": 15, "t": 3.2, "i": -0.017}, {"s": 15, "t": 3.3, "i": -0.003}, {"s": 15, "t": 3.4, "i": -0.015}, {"s": 15, "t": 3.5, "i": -0.001}, {"s": 15, "t": 3.6, "i": -0.013}, {"s": 15, "t": 3.7, "i": 0}, {"s": 15, "t": 3.748, "i": -0.012},
          {"s": 15, "t": 3.75, "i": 1.0}, {"s": 15, "t": 3.754, "i": 0.86}, {"s": 15, "t": 3.762, "i": 0.77}, {"s": 15, "t": 3.78, "i": 0.71}, {"s": 15, "t": 3.81, "i": 0.67}, {"s": 15, "t": 3.85, "i": 0.64}, {"s": 15, "t": 3.9, "i": 0.615}, {"s": 15, "t": 3.925, "i": 0.6}, {"s": 15, "t": 3.948, "i": 0.59},
          {"s": 15, "t": 3.95, "i": -0.526}, {"s": 15, "t": 3.953, "i": -0.18}, {"s": 15, "t": 3.958, "i": -0.06}, {"s": 15, "t": 3.965, "i": -0.02}, {"s": 15, "t": 3.98, "i": -0.012}, {"s": 15, "t": 4.0, "i": -0.018}, {"s": 15, "t": 4.02, "i": -0.008}, {"s": 15, "t": 4.03, "i": 0.005}, {"s": 15, "t": 4.04, "i": -0.012}, {"s": 15, "t": 4.05, "i": -0.015},

          {"s": 16, "t": 1.6, "i": -0.54}, {"s": 16, "t": 1.602, "i": -0.19}, {"s": 16, "t": 1.606, "i": -0.085}, {"s": 16, "t": 1.615, "i": -0.055}, {"s": 16, "t": 1.63, "i": -0.04}, {"s": 16, "t": 1.65, "i": -0.03}, {"s": 16, "t": 1.7, "i": -0.029}, {"s": 16, "t": 1.8, "i": -0.006}, {"s": 16, "t": 1.9, "i": -0.015}, {"s": 16, "t": 2.0, "i": 0.003}, {"s": 16, "t": 2.1, "i": -0.009}, {"s": 16, "t": 2.2, "i": 0.009}, {"s": 16, "t": 2.3, "i": -0.004}, {"s": 16, "t": 2.4, "i": 0.013}, {"s": 16, "t": 2.5, "i": 0}, {"s": 16, "t": 2.6, "i": 0.016}, {"s": 16, "t": 2.7, "i": 0.003}, {"s": 16, "t": 2.8, "i": 0.017}, {"s": 16, "t": 2.9, "i": 0.005}, {"s": 16, "t": 3.0, "i": 0.018}, {"s": 16, "t": 3.1, "i": 0.006}, {"s": 16, "t": 3.2, "i": 0.018}, {"s": 16, "t": 3.3, "i": 0.007}, {"s": 16, "t": 3.4, "i": 0.02}, {"s": 16, "t": 3.5, "i": 0.008}, {"s": 16, "t": 3.6, "i": 0.019}, {"s": 16, "t": 3.7, "i": 0.007}, {"s": 16, "t": 3.8, "i": 0.018}, {"s": 16, "t": 3.898, "i": 0.01},
          {"s": 16, "t": 3.9, "i": 1.0}, {"s": 16, "t": 3.904, "i": 0.85}, {"s": 16, "t": 3.912, "i": 0.76}, {"s": 16, "t": 3.93, "i": 0.69}, {"s": 16, "t": 3.96, "i": 0.64}, {"s": 16, "t": 4.0, "i": 0.6}, {"s": 16, "t": 4.05, "i": 0.565}, {"s": 16, "t": 4.075, "i": 0.545}, {"s": 16, "t": 4.098, "i": 0.53},
          {"s": 16, "t": 4.1, "i": -0.476}, {"s": 16, "t": 4.103, "i": -0.16}, {"s": 16, "t": 4.108, "i": -0.06}, {"s": 16, "t": 4.115, "i": -0.035}, {"s": 16, "t": 4.14, "i": -0.02}, {"s": 16, "t": 4.17, "i": -0.005}, {"s": 16, "t": 4.19, "i": 0}, {"s": 16, "t": 4.21, "i": 0.008}
        ]
      },
      "mark": {"type": "line", "color": "black", "strokeWidth": 2.2, "strokeJoin": "round"},
      "encoding": {"detail": {"field": "s", "type": "nominal"}}
    },
    {
      "data": {"values": [{"label": "Kv1.5 \u00a0Rat \u00a0CV1 \u00a025 °C", "t": 0.067, "i": 1.146}]},
      "mark": {"type": "text", "align": "left", "baseline": "alphabetic", "font": "DejaVu Sans", "fontSize": 22, "fontWeight": "bold", "color": "black"},
      "encoding": {"text": {"field": "label"}}
    },
    {
      "data": {"values": [{"label": "Recovery", "t": 4.267, "i": 1.146}]},
      "mark": {"type": "text", "align": "right", "baseline": "alphabetic", "font": "DejaVu Sans", "fontSize": 22, "color": "black"},
      "encoding": {"text": {"field": "label"}}
    },
    {
      "data": {"values": [{"label": "BBP Channelpedia ID 21681 rep 1", "t": 4.367, "i": 0.272}]},
      "mark": {"type": "text", "angle": 270, "align": "center", "baseline": "alphabetic", "font": "DejaVu Sans", "fontSize": 22, "color": "black"},
      "encoding": {"text": {"field": "label"}}
    }
  ]
}
